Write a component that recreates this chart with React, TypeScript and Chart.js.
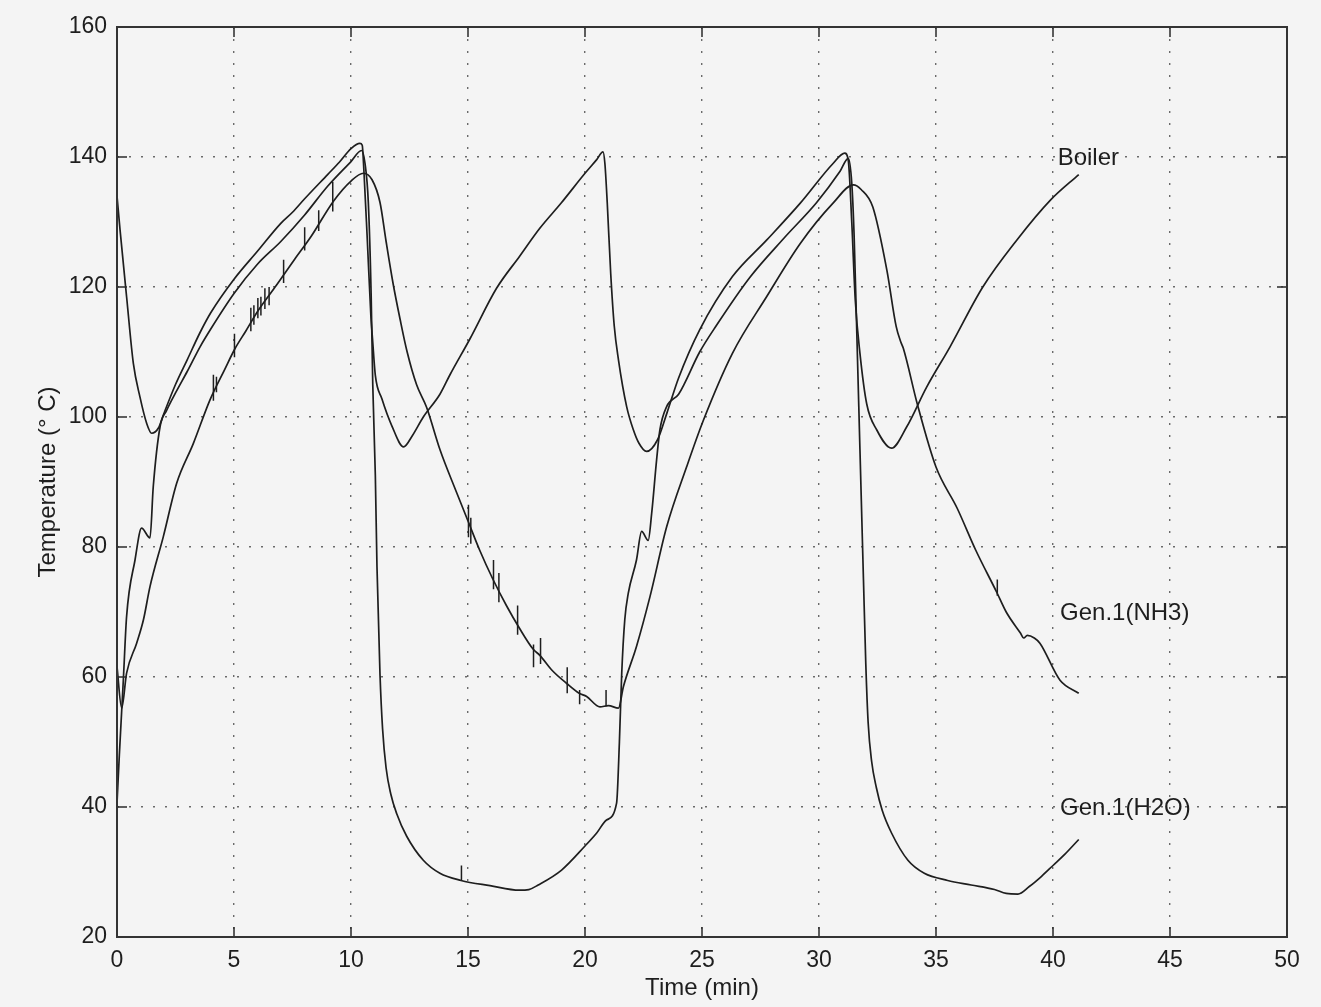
import React, { useEffect, useRef } from "react";
import { Chart, registerables } from "chart.js";

Chart.register(...registerables);

// ---------- data (time in min, temperature in °C) ----------
const boilerTime = [0, 0.13, 0.41, 0.7, 0.98, 1.27, 1.48, 1.77, 2.0, 2.5, 3.0, 3.55, 4.0, 5.0, 6.0, 7.0, 7.5, 8.0, 9.0, 9.5, 10.0, 10.38, 10.48, 10.55, 10.7, 10.85, 10.92, 11.04, 11.32, 11.75, 12.25, 12.6, 13.09, 13.8, 14.23, 15.08, 16.22, 17.2, 18.06, 19.0, 20.0, 20.5, 20.77, 20.85, 20.95, 21.1, 21.25, 21.43, 21.78, 22.07, 22.3, 22.63, 23.1, 23.5, 24.0, 24.9, 26.3, 27.76, 29.2, 30.6, 31.1, 31.25, 31.4, 31.55, 31.75, 32.04, 32.47, 33.1, 33.75, 34.6, 35.6, 37.0, 38.45, 39.9, 41.1];
const boilerTemp = [134, 128.8, 118.5, 108.2, 103.1, 99, 97.5, 98.3, 100.5, 105, 108.8, 113, 116, 121.2, 125.5, 129.8, 131.5, 133.5, 137.3, 139.2, 141.3, 142.1, 141.8, 138, 127, 115.5, 112, 106.4, 102.8, 98.6, 95.4, 97, 100, 103.5, 106.5, 112, 119.8, 124.7, 129, 133, 137.5, 139.6, 140.8, 139, 133, 122, 114, 108.8, 101.6, 98, 96, 94.7, 96.5, 100.6, 106, 113.4, 121.6, 127.2, 132.9, 139, 140.6, 139.5, 130, 118, 109.8, 102, 98, 95.2, 98.5, 104.6, 110.8, 120, 127.2, 133.4, 137.3];

const h2oTime = [0, 0.1, 0.27, 0.41, 0.77, 1.05, 1.41, 1.55, 1.84, 2.12, 2.5, 3.0, 3.55, 4.0, 5.0, 6.0, 7.0, 8.0, 9.0, 10.0, 10.45, 10.6, 10.74, 10.86, 10.93, 11.04, 11.11, 11.24, 11.35, 11.5, 11.7, 11.95, 12.38, 13.09, 13.8, 14.7, 15.94, 17.2, 17.6, 18.0, 19.0, 20.0, 20.5, 20.92, 21.35, 21.47, 21.57, 21.7, 21.85, 22.2, 22.42, 22.7, 22.85, 23.06, 23.2, 23.49, 24.0, 24.9, 25.6, 27.05, 28.5, 29.9, 30.9, 31.25, 31.4, 31.5, 31.6, 31.75, 31.9, 32.0, 32.1, 32.25, 32.45, 32.7, 33.1, 33.8, 34.5, 35.5, 36.5, 37.5, 38.0, 38.5, 39.0, 39.5, 40.0, 40.5, 41.1];
const h2oTemp = [40.6, 48, 59.5, 69.3, 78, 82.9, 81.4, 89.3, 98.5, 101, 103.7, 107, 110.8, 113.5, 119, 123.5, 127, 131, 135.5, 139.3, 141, 139, 133, 119, 105, 91, 77, 60.3, 52, 46, 42, 39, 35.5, 31.8, 29.8, 28.7, 27.9, 27.2, 27.3, 28, 30.3, 34, 36, 38, 40.6, 50, 60.6, 68.8, 72.9, 78, 82.4, 81, 85.2, 93.4, 98, 101.6, 103.5, 110, 114, 121.5, 127.5, 133, 137.8, 139.8, 136, 128, 115, 95, 75, 62, 53, 47, 43, 39.5, 36, 31.8, 29.8, 28.7, 28, 27.3, 26.7, 26.6, 27.8, 29.3, 31, 32.7, 35];

const nh3Time = [0, 0.2, 0.41, 0.84, 1.13, 1.41, 1.98, 2.55, 3.26, 3.97, 4.6, 5.04, 5.5, 6.0, 6.82, 7.6, 8.3, 9.25, 10.0, 10.53, 10.9, 11.24, 11.5, 11.8, 12.1, 12.4, 12.8, 13.23, 13.8, 14.5, 15.0, 15.5, 16.07, 16.64, 17.2, 17.78, 18.08, 18.6, 19.22, 19.75, 20.07, 20.64, 21.0, 21.43, 21.64, 22.2, 22.78, 23.49, 24.34, 25.06, 26.3, 27.76, 29.2, 30.6, 31.47, 31.8, 32.3, 32.9, 33.3, 33.5, 33.6, 34.2, 35.0, 35.9, 36.7, 37.6, 38.0, 38.6, 38.75, 38.9, 39.2, 39.44, 40.3, 41.1];
const nh3Temp = [61.6, 55.2, 60.6, 65.2, 68.8, 73.9, 81.6, 89.8, 95.9, 102.6, 107.3, 110.5, 113.2, 116.2, 120.3, 124.3, 127.8, 133.2, 136.3, 137.5, 136.5, 133, 127, 120.5, 115, 110, 105, 101.5, 95, 88.5, 84, 79.5, 75, 71, 67.5, 64.3, 63.3, 61, 59, 57.5, 57, 55.4, 55.6, 55.2, 58.5, 64.7, 72.4, 83.1, 92.3, 99.5, 109.8, 118.5, 126.7, 132.9, 135.7, 135, 132.3, 122.6, 113.9, 111.5, 110.6, 102, 92.3, 86, 79.5, 73, 70, 66.8, 66, 66.4, 66, 65.2, 59.5, 57.5];

// short vertical noise spikes on the recorded traces
const spikeTime = [4.12, 4.25, 5.02, 5.72, 5.85, 6.02, 6.15, 6.32, 6.5, 7.12, 8.02, 8.62, 9.22, 14.72, 15.02, 15.12, 16.09, 16.32, 17.12, 17.8, 18.1, 19.24, 19.77, 20.9, 37.62];
const spikeLow = [102.5, 103.8, 109.2, 113.2, 114.2, 115.2, 115.6, 116.6, 117.2, 120.6, 125.6, 128.6, 131.6, 28.6, 81.5, 80.5, 73.5, 71.5, 66.5, 61.5, 62, 57.5, 55.8, 55.5, 72.5];
const spikeHigh = [106.5, 106.2, 112.8, 116.8, 117.2, 118.3, 118.5, 119.8, 120, 124.2, 129.2, 131.8, 136.2, 31, 86.5, 84.5, 78, 76, 71, 65, 66, 61.5, 58, 58, 75];

const curveLabels = ["Boiler", "Gen.1(NH3)", "Gen.1(H2O)"];
const curveLabelTime = [40.2, 40.3, 40.3];
const curveLabelTemp = [139.8, 69.8, 39.8];

const xLabel = "Time (min)";
const yLabel = "Temperature (\u00B0 C)";

const FONT = "'Liberation Sans', Arial, Helvetica, sans-serif";
const INK = "#1e1e1e";

const toPoints = (ts: number[], vs: number[]) => ts.map((t, i) => ({ x: t, y: vs[i] }));
const spikePoints = () => {
  const pts: { x: number; y: number | null }[] = [];
  spikeTime.forEach((t, i) => {
    pts.push({ x: t, y: spikeLow[i] }, { x: t, y: spikeHigh[i] }, { x: t, y: null });
  });
  return pts;
};

const framePlugin = {
  id: "matlabFrame",
  beforeDraw(chart: any) {
    const { ctx, width, height } = chart;
    ctx.save();
    ctx.fillStyle = "#f4f4f4";
    ctx.fillRect(0, 0, width, height);
    ctx.restore();
  },
  afterDraw(chart: any) {
    const { ctx, chartArea: a, scales } = chart;
    const xs = scales.x;
    const ys = scales.y;
    ctx.save();
    ctx.strokeStyle = "#2a2a2a";
    ctx.lineWidth = 1.5;
    const L = 10;
    ctx.beginPath();
    xs.ticks.forEach((t: any) => {
      const px = xs.getPixelForValue(t.value);
      ctx.moveTo(px, a.bottom);
      ctx.lineTo(px, a.bottom - L);
      ctx.moveTo(px, a.top);
      ctx.lineTo(px, a.top + L);
    });
    ys.ticks.forEach((t: any) => {
      const py = ys.getPixelForValue(t.value);
      ctx.moveTo(a.left, py);
      ctx.lineTo(a.left + L, py);
      ctx.moveTo(a.right, py);
      ctx.lineTo(a.right - L, py);
    });
    ctx.stroke();
    ctx.lineWidth = 2;
    ctx.strokeStyle = "#333";
    ctx.strokeRect(a.left, a.top, a.right - a.left, a.bottom - a.top);

    ctx.fillStyle = INK;
    ctx.font = `24px ${FONT}`;
    ctx.textAlign = "left";
    ctx.textBaseline = "middle";
    curveLabels.forEach((s, i) => {
      ctx.fillText(s, xs.getPixelForValue(curveLabelTime[i]), ys.getPixelForValue(curveLabelTemp[i]));
    });
    ctx.restore();
  },
};

export default function App() {
  const ref = useRef<HTMLCanvasElement | null>(null);

  useEffect(() => {
    if (!ref.current) return;
    const lineStyle = {
      borderColor: INK,
      borderWidth: 1.7,
      pointRadius: 0,
      cubicInterpolationMode: "monotone",
      fill: false,
    };
    const chart = new Chart(ref.current, {
      type: "line",
      data: {
        datasets: [
          { label: "Boiler", data: toPoints(boilerTime, boilerTemp), ...lineStyle },
          { label: "Gen.1(NH3)", data: toPoints(nh3Time, nh3Temp), ...lineStyle },
          { label: "Gen.1(H2O)", data: toPoints(h2oTime, h2oTemp), ...lineStyle },
          {
            label: "spikes",
            data: spikePoints(),
            borderColor: INK,
            borderWidth: 1.5,
            pointRadius: 0,
            tension: 0,
            spanGaps: false,
            fill: false,
          },
        ],
      },
      options: {
        animation: false,
        responsive: false,
        events: [],
        layout: { padding: { left: 0, right: 34, top: 27, bottom: 0 } },
        plugins: {
          legend: { display: false },
          tooltip: { enabled: false },
          title: { display: false },
        },
        scales: {
          x: {
            type: "linear",
            min: 0,
            max: 50,
            afterFit: (s: any) => {
              s.height = 70;
            },
            ticks: {
              stepSize: 5,
              color: INK,
              padding: 10,
              font: { family: FONT, size: 23 },
            },
            grid: { color: "#6a6a6a", lineWidth: 1.4, drawTicks: false },
            border: { display: false, dash: [2, 10] },
            title: {
              display: true,
              text: xLabel,
              color: INK,
              font: { family: FONT, size: 24 },
              padding: { top: 0, bottom: 4 },
            },
          },
          y: {
            type: "linear",
            min: 20,
            max: 160,
            afterFit: (s: any) => {
              s.width = 117;
            },
            ticks: {
              stepSize: 20,
              color: INK,
              padding: 10,
              font: { family: FONT, size: 23 },
            },
            grid: { color: "#6a6a6a", lineWidth: 1.4, drawTicks: false },
            border: { display: false, dash: [2, 10] },
            title: {
              display: true,
              text: yLabel,
              color: INK,
              font: { family: FONT, size: 24 },
              padding: { top: 34, bottom: 0 },
            },
          },
        },
      },
      plugins: [framePlugin],
    } as any);
    return () => chart.destroy();
  }, []);

  return (
    <div style={{ position: "absolute", left: 0, top: 0, width: 1321, height: 1007 }}>
      <canvas ref={ref} width={1321} height={1007} style={{ display: "block" }} />
    </div>
  );
}
